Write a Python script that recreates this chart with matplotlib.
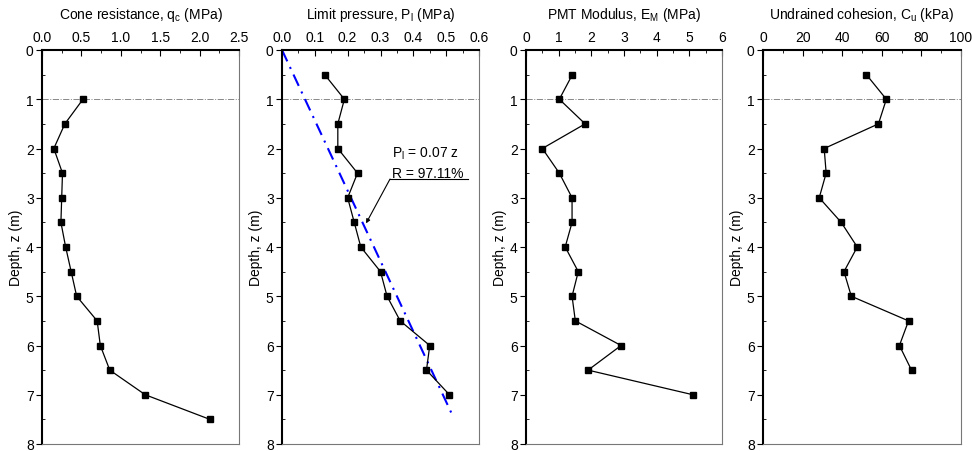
import matplotlib
matplotlib.use('Agg')
import matplotlib.pyplot as plt
import numpy as np

plt.rcParams['font.family'] = ['Liberation Sans', 'DejaVu Sans']
plt.rcParams['font.size'] = 10
plt.rcParams['mathtext.fontset'] = 'custom'
plt.rcParams['mathtext.rm'] = 'Liberation Sans'

# %% datos
z_qc = [1.0, 1.5, 2.0, 2.5, 3.0, 3.5, 4.0, 4.5, 5.0, 5.5, 6.0, 6.5, 7.0, 7.5]
qc = [0.52, 0.29, 0.15, 0.26, 0.25, 0.24, 0.30, 0.37, 0.44, 0.70, 0.74, 0.86, 1.31, 2.13]

z_pl = [0.5, 1.0, 1.5, 2.0, 2.5, 3.0, 3.5, 4.0, 4.5, 5.0, 5.5, 6.0, 6.5, 7.0]
pl = [0.13, 0.19, 0.17, 0.17, 0.23, 0.20, 0.22, 0.24, 0.30, 0.32, 0.36, 0.45, 0.44, 0.51]
pl_slope = 0.07
z_fit = [0.0, 7.4]

z_em = [0.5, 1.0, 1.5, 2.0, 2.5, 3.0, 3.5, 4.0, 4.5, 5.0, 5.5, 6.0, 6.5, 7.0]
em = [1.42, 1.02, 1.81, 0.50, 1.02, 1.41, 1.41, 1.20, 1.60, 1.41, 1.51, 2.91, 1.90, 5.11]

z_cu = [0.5, 1.0, 1.5, 2.0, 2.5, 3.0, 3.5, 4.0, 4.5, 5.0, 5.5, 6.0, 6.5]
cu = [52.2, 62.3, 58.3, 30.9, 31.9, 28.4, 39.5, 47.6, 40.9, 44.6, 73.5, 68.9, 75.0]

titulos = ['Cone resistance, q$_\\mathregular{c}$ (MPa)',
           'Limit pressure, P$_\\mathregular{l}$ (MPa)',
           'PMT Modulus, E$_\\mathregular{M}$ (MPa)',
           'Undrained cohesion, C$_\\mathregular{u}$ (kPa)']
xlims = [(0, 2.5), (0, 0.6), (0, 6), (0, 100)]
xmajor = [0.5, 0.1, 1, 20]
xfmt = ['{:.1f}', '{:.1f}', '{:.0f}', '{:.0f}']
lefts = [42, 282, 526, 763]
anchos = [197, 197, 196, 198]

# %%
fig = plt.figure(figsize=(9.72, 4.52), dpi=100)
axes = []
for i in range(4):
    ax = fig.add_axes([lefts[i] / 972, 7 / 452, anchos[i] / 972, 394 / 452])
    axes.append(ax)
    ax.set_xlim(*xlims[i])
    ax.set_ylim(8, 0)
    ax.xaxis.tick_top()
    ax.xaxis.set_label_position('top')
    xt = np.arange(xlims[i][0], xlims[i][1] + xmajor[i] / 2, xmajor[i])
    ax.set_xticks(xt)
    ax.set_xticklabels([xfmt[i].format(v) for v in xt])
    ax.set_xticks(np.arange(xlims[i][0], xlims[i][1], xmajor[i] / 2), minor=True)
    ax.set_yticks(range(9))
    ax.set_yticks(np.arange(0.5, 8, 1), minor=True)
    ax.tick_params(axis='x', which='both', direction='in', top=True, bottom=False, pad=4)
    ax.tick_params(axis='x', which='major', length=4)
    ax.tick_params(axis='x', which='minor', length=2.5)
    ax.tick_params(axis='y', which='major', direction='out', length=4, pad=2)
    ax.tick_params(axis='y', which='minor', direction='in', length=2.5)
    ax.set_xlabel(titulos[i], labelpad=9)
    ax.set_ylabel('Depth, z (m)', labelpad=2)
    ax.spines['left'].set_linewidth(1.5)
    ax.spines['top'].set_linewidth(1.5)
    ax.spines['right'].set_color('#777777')
    ax.spines['bottom'].set_color('#777777')
    ax.axhline(1, color='#888888', lw=0.7, ls='-.', zorder=1)

kw = dict(color='black', lw=0.9, marker='s', ms=5, mfc='black', zorder=3)
axes[0].plot(qc, z_qc, **kw)
axes[1].plot([pl_slope * v for v in z_fit], z_fit, color='blue', lw=1.5,
             ls=(0, (6, 3, 1, 3)), zorder=2)
axes[1].plot(pl, z_pl, **kw)
axes[2].plot(em, z_em, **kw)
axes[3].plot(cu, z_cu, **kw)

# anotacion del ajuste
ax = axes[1]
ax.text(0.334, 2.08, 'P$_\\mathregular{l}$ = 0.07 z', fontsize=10, va='center')
ax.text(0.334, 2.5, 'R = 97.11%', fontsize=10, va='center')
ax.plot([0.329, 0.567], [2.62, 2.62], color='black', lw=0.8)
ax.annotate('', xy=(0.256, 3.52), xytext=(0.329, 2.62),
            arrowprops=dict(arrowstyle='-|>', color='black', lw=0.8,
                            mutation_scale=6, shrinkA=0, shrinkB=0))

fig.savefig('out.png', dpi=100)
